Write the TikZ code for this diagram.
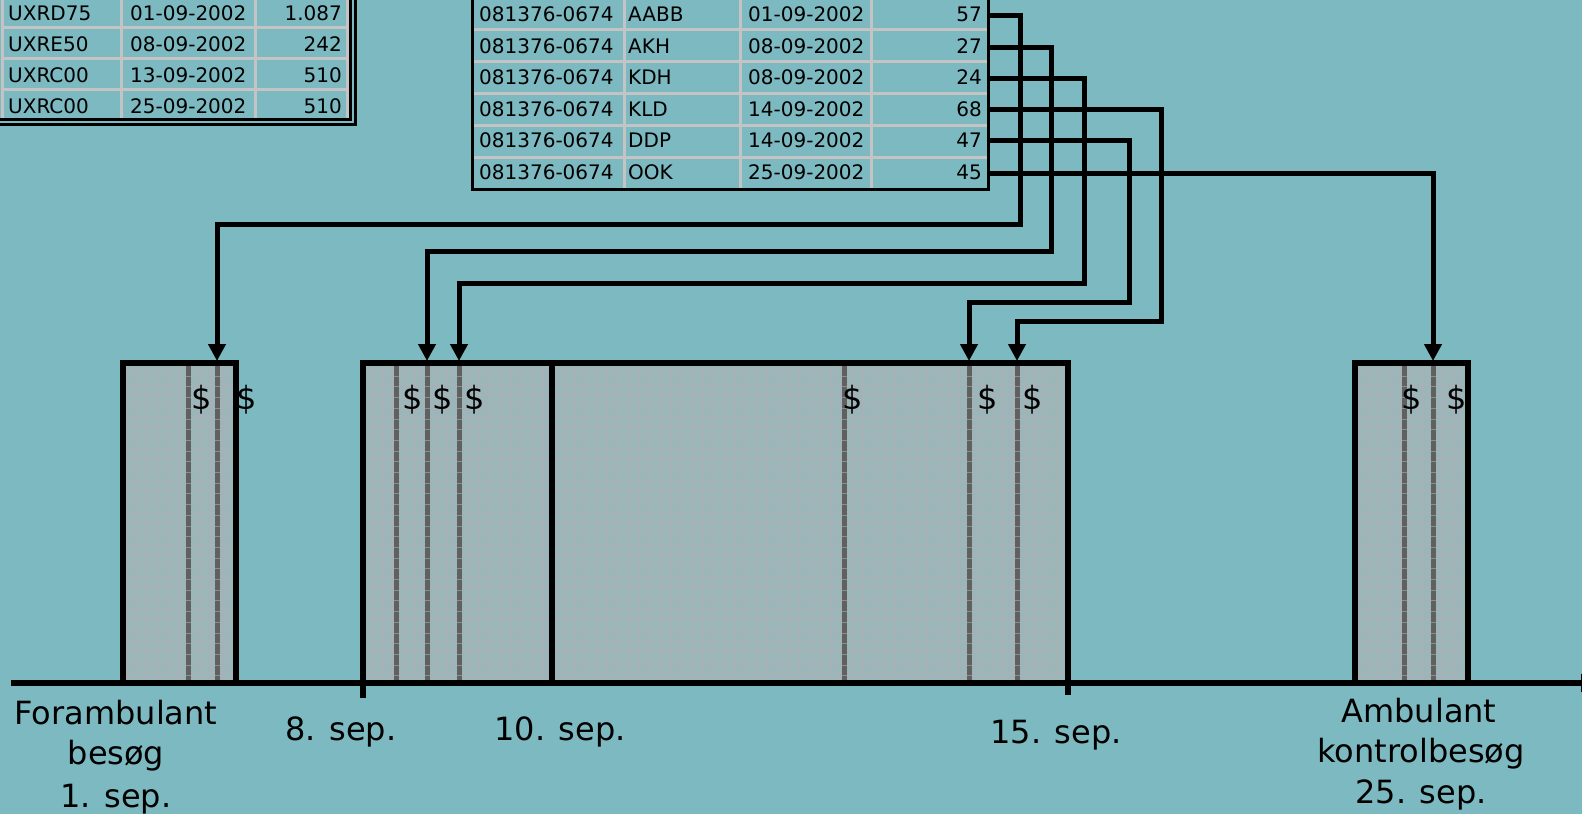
\documentclass[tikz,border=0pt]{standalone}
\usepackage{fontspec}
\setmainfont{DejaVu Sans}
\usetikzlibrary{arrows.meta}
\definecolor{bgc}{RGB}{125,185,192}
\definecolor{boxc}{RGB}{155,181,185}
\definecolor{gridc}{RGB}{172,176,180}
\definecolor{darkc}{RGB}{96,96,96}
\definecolor{darkl}{RGB}{140,140,140}
\definecolor{cellc}{RGB}{196,196,196}
\newcommand\tabfont{\fontsize{20}{24}\selectfont}
\newcommand\bigfont{\fontsize{32}{38}\selectfont}
\newcommand\dlines[1]{\foreach \xx in {#1}{\draw[darkl,line width=5pt] (\xx,366) -- (\xx,680); \draw[darkc,line width=5pt,dash pattern=on 9.7pt off 1pt] (\xx,366) -- (\xx,680);}}
\newcommand\boxgrid{\draw[gridc,line width=0.7pt] (path picture bounding box.south west) grid[step=10.7pt] (path picture bounding box.north east);}
\tikzset{
 cell/.style={anchor=base west, inner sep=0pt, font=\tabfont},
 celr/.style={anchor=base east, inner sep=0pt, font=\tabfont},
 cellline/.style={cellc, line width=3pt},
 tabedge/.style={black, line width=3pt},
 conn/.style={line width=5pt, -{Triangle[length=17pt,width=17pt]}},
 tbox/.style={draw, line width=5.5pt, fill=boxc, inner sep=0pt, outer sep=0pt, rectangle, minimum height=320pt},
 lbl/.style={font=\bigfont, inner sep=0pt, anchor=base},
 dollar/.style={font=\bigfont, inner sep=0pt},
 axisline/.style={line width=5.5pt},
}
\begin{document}
\begin{tikzpicture}[x=1pt,y=-1pt]
\fill[bgc] (0,0) rectangle (1582,814);
\useasboundingbox (0,0) rectangle (1582,814);

% ---------- left table ----------
\foreach \xx in {2,121,255,347}{\draw[cellline] (\xx,-5) -- (\xx,118);}
\foreach \yy in {27,58,89}{\draw[cellline] (2,\yy) -- (347,\yy);}
\draw[tabedge] (0,119) -- (350,119) -- (350,-5);
\draw[tabedge] (0,124) -- (355,124) -- (355,-5);
\node[cell] (l11) at (8,20.5) {UXRD75};
\node[cell] (l12) at (130,20.5) {01-09-2002};
\node[celr] (l13) at (342,20.5) {1.087};
\node[cell] (l21) at (8,51.5) {UXRE50};
\node[cell] (l22) at (130,51.5) {08-09-2002};
\node[celr] (l23) at (342,51.5) {242};
\node[cell] (l31) at (8,82.5) {UXRC00};
\node[cell] (l32) at (130,82.5) {13-09-2002};
\node[celr] (l33) at (342,82.5) {510};
\node[cell] (l41) at (8,113) {UXRC00};
\node[cell] (l42) at (130,113) {25-09-2002};
\node[celr] (l43) at (342,113) {510};

% ---------- middle table ----------
\foreach \xx in {624,740,871}{\draw[cellline] (\xx,-5) -- (\xx,188);}
\foreach \yy in {-2,29.8,61.6,93.4,125.2,157}{\draw[cellline] (472,\yy) -- (988,\yy);}
\draw[tabedge] (472,-5) -- (472,189) -- (988,189) -- (988,-5);
\foreach \r/\yy/\cd/\dt/\vv in {1/21/AABB/01-09-2002/57,2/53/AKH/08-09-2002/27,3/84.5/KDH/08-09-2002/24,4/116/KLD/14-09-2002/68,5/147.5/DDP/14-09-2002/47,6/179.5/OOK/25-09-2002/45}{
  \node[cell] (m\r a) at (479,\yy) {081376-0674};
  \node[cell] (m\r b) at (628,\yy) {\cd};
  \node[cell] (m\r c) at (748,\yy) {\dt};
  \node[celr] (m\r d) at (982,\yy) {\vv};
}

% ---------- boxes ----------
\node[tbox, minimum width=113pt, path picture={\boxgrid}] (b1) at (179.5,523) {};
\node[tbox, minimum width=189pt, path picture={\boxgrid}] (b2) at (457.5,523) {};
\node[tbox, minimum width=516pt, path picture={\boxgrid}] (b3) at (810,523) {};
\node[tbox, minimum width=113pt, path picture={\boxgrid}] (b4) at (1411.5,523) {};
\dlines{188,217,396,427,459,844,969,1017,1404,1433}

% ---------- axis ----------
\coordinate (ax0) at (11,683);
\coordinate (ax1) at (1598,683);
\draw[axisline, -{Triangle[length=17pt,width=17pt]}] (ax0) -- (ax1);
\draw[axisline] (363,681) -- (363,698);
\draw[axisline] (1068,681) -- (1068,695);

% ---------- dollars ----------
\foreach \n/\xx in {1/202,2/247,3/413,4/443,5/475,6/853,7/988,8/1033,9/1412,10/1457}{
  \node[dollar] (s\n) at (\xx,400) {\$};
}

% ---------- connectors ----------
\coordinate (e1) at (988,15);
\coordinate (e2) at (988,47);
\coordinate (e3) at (988,78);
\coordinate (e4) at (988,109);
\coordinate (e5) at (988,140);
\coordinate (e6) at (988,173);
\coordinate (v1) at (1020,224);
\coordinate (v2) at (1051,251);
\coordinate (v3) at (1084,283);
\coordinate (v4) at (1161,321);
\coordinate (v5) at (1129,302);
\coordinate (t1) at (217,361);
\coordinate (t2) at (427,361);
\coordinate (t3) at (459,361);
\coordinate (t4) at (969,361);
\coordinate (t5) at (1017,361);
\coordinate (t6) at (1433,361);
\draw[conn] (e1) -| (v1) -| (t1);
\draw[conn] (e2) -| (v2) -| (t2);
\draw[conn] (e3) -| (v3) -| (t3);
\draw[conn] (e4) -| (v4) -| (t5);
\draw[conn] (e5) -| (v5) -| (t4);
\draw[conn] (e6) -| (t6);

% ---------- labels ----------
\node[lbl] (fa) at (116,724) {Forambulant};
\node[lbl] (fb) at (116,764) {besøg};
\node[lbl] (fc) at (116,807) {1. sep.};
\node[lbl] (d8) at (341,740) {8. sep.};
\node[lbl] (d10) at (560,740) {10. sep.};
\node[lbl] (d15) at (1056,743) {15. sep.};
\node[lbl] (aa) at (1419,722) {Ambulant};
\node[lbl] (ab) at (1421,762) {kontrolbesøg};
\node[lbl] (ac) at (1421,803) {25. sep.};
\end{tikzpicture}
\end{document}
